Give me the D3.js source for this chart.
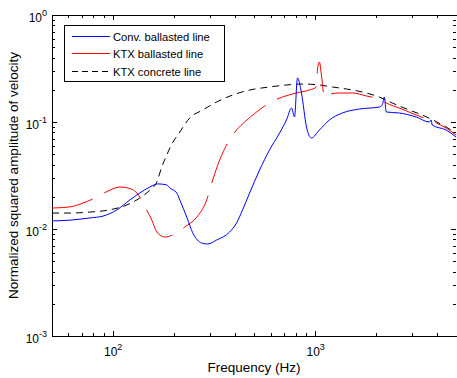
<!DOCTYPE html>
<html>
<head>
<meta charset="utf-8">
<script src="https://cdn.jsdelivr.net/npm/d3@7"></script>
<style>
  body { margin: 0; background: #fff; }
  text { font-family: "Liberation Sans", Arial, sans-serif; }
</style>
</head>
<body>
<div id="content"></div>
<script>
// series data (Hz, normalized squared amplitude)
let freqConv = [50, 61.4, 77.1, 89.3, 104.6, 121.3, 135.8, 152.1, 166.6, 184.5, 190.9, 206.6, 213.8,
  231.5, 247.8, 274.3, 293.8, 325.2, 376.9, 408, 436.7, 473, 530, 593, 665, 719, 762, 788, 815, 853,
  903, 955, 1046, 1172, 1358, 1647, 2065, 2138, 2188, 2238, 2594, 3145, 3644, 3727, 3770, 4416, 4951];
let ampConv = [0.0119, 0.0121, 0.0127, 0.0132, 0.0151, 0.0187, 0.0217, 0.0247, 0.0264, 0.0258, 0.0242, 0.0217, 0.0187,
  0.0129, 0.0092, 0.0074, 0.00724, 0.00789, 0.00937, 0.0114, 0.0151, 0.0217, 0.0356, 0.0548, 0.0789, 0.1044, 0.135, 0.1113, 0.258, 0.1867,
  0.0898, 0.0709, 0.0842, 0.1044, 0.1214, 0.1322, 0.138, 0.1442, 0.1713, 0.124, 0.1214, 0.1113, 0.1, 0.1044, 0.0937, 0.0842, 0.0724];

let freqBal = [50, 61.4, 71.2, 81.5, 94.5, 108.3, 118.5, 131.3, 143.8, 155.6, 164.7, 180.3, 197.5, 226.3,
  259.3, 290.4, 310.9, 336.5, 368.6, 408, 446.9, 512, 593, 687, 806, 934, 1011, 1023, 1046, 1070,
  1107, 1133, 1312, 1521, 1783, 2113, 2238, 2594, 3145, 3644, 4416, 4951];
let ampBal = [0.0157, 0.0161, 0.0175, 0.0195, 0.0226, 0.0247, 0.0242, 0.0217, 0.0161, 0.0121, 0.00937, 0.00842, 0.00879, 0.01044,
  0.0129, 0.0187, 0.0287, 0.0442, 0.0637, 0.0842, 0.1, 0.124, 0.1506, 0.1713, 0.1867, 0.199, 0.2124, 0.306, 0.364, 0.275,
  0.1713, 0.1788, 0.1867, 0.1867, 0.175, 0.1606, 0.1506, 0.135, 0.1162, 0.1044, 0.0879, 0.0755];

let freqConc = [50, 61.4, 77.1, 96.6, 117.2, 135.8, 152.1, 164.7, 174.2, 184.5, 190.9, 213.8, 239.5, 277.5,
  325.2, 390, 473, 593, 719, 863, 1046, 1213, 1422, 1783, 2065, 2393, 2904, 3365, 4416, 4951];
let ampConc = [0.0141, 0.0141, 0.0144, 0.0151, 0.0168, 0.0195, 0.0231, 0.0275, 0.038, 0.0492, 0.0571, 0.0806, 0.109, 0.1295,
  0.1538, 0.1788, 0.199, 0.2124, 0.2218, 0.2265, 0.2218, 0.2124, 0.2034, 0.1867, 0.1713, 0.1506, 0.1295, 0.1162, 0.0898, 0.0789];

let seriesNames = ["Conv. ballasted line", "KTX ballasted line", "KTX concrete line"];
let seriesColors = ["#0000ff", "#ff0000", "#000000"];

let xTickVals = [100, 1000];
let xTickExp = ["2", "3"];
let yTickVals = [1, 0.1, 0.01, 0.001];
let yTickExp = ["0", "-1", "-2", "-3"];

let width = 457, height = 378;
let pLeft = 52, pRight = 457, pTop = 15, pBottom = 336;

let svg = d3.select("#content").append("svg")
  .attr("width", width).attr("height", height);

let x = d3.scaleLog().domain([50, 5000]).range([pLeft, pRight]);
let y = d3.scaleLog().domain([0.001, 1]).range([pBottom, pTop]);

svg.append("clipPath").attr("id", "clip")
  .append("rect").attr("x", pLeft).attr("y", pTop)
  .attr("width", pRight - pLeft).attr("height", pBottom - pTop);

// minor + major ticks, drawn inward on all four sides
let xMinor = [];
[10, 100, 1000].forEach(function (d) {
  for (let k = 2; k <= 9; k++) {
    let v = d * k;
    if (v > 50 && v < 5000) xMinor.push(v);
  }
});
let yMinor = [];
[0.001, 0.01, 0.1].forEach(function (d) {
  for (let k = 2; k <= 9; k++) yMinor.push(d * k);
});

let ticks = svg.append("g").attr("stroke", "#000").attr("stroke-width", 1);
function xTick(v, len) {
  let px = Math.round(x(v)) + 0.5;
  ticks.append("line").attr("x1", px).attr("x2", px).attr("y1", pBottom).attr("y2", pBottom - len);
  ticks.append("line").attr("x1", px).attr("x2", px).attr("y1", pTop).attr("y2", pTop + len);
}
function yTick(v, len) {
  let py = Math.round(y(v)) + 0.5;
  ticks.append("line").attr("x1", pLeft).attr("x2", pLeft + len).attr("y1", py).attr("y2", py);
  ticks.append("line").attr("x1", pRight - 1).attr("x2", pRight - 1 - len).attr("y1", py).attr("y2", py);
}
xMinor.forEach(function (v) { xTick(v, 3); });
xTickVals.forEach(function (v) { xTick(v, 5); });
yMinor.forEach(function (v) { yTick(v, 3); });
yTickVals.forEach(function (v) { yTick(v, 5); });

// frame
svg.append("rect")
  .attr("x", pLeft + 0.5).attr("y", pTop + 0.5)
  .attr("width", pRight - pLeft).attr("height", pBottom - pTop)
  .attr("fill", "none").attr("stroke", "#000").attr("stroke-width", 1);

// tick labels
let xl = svg.append("g").attr("font-size", 12).attr("fill", "#000");
xTickVals.forEach(function (v, i) {
  let t = xl.append("text").attr("x", x(v) - 9).attr("y", 356);
  t.append("tspan").text("10");
  t.append("tspan").attr("dy", -6).attr("font-size", 9).text(xTickExp[i]);
});
let yl = svg.append("g").attr("font-size", 12).attr("fill", "#000");
yTickVals.forEach(function (v, i) {
  let t = yl.append("text").attr("text-anchor", "end").attr("x", 47).attr("y", y(v) + 7);
  t.append("tspan").text("10");
  t.append("tspan").attr("dy", -6).attr("font-size", 9).text(yTickExp[i]);
});

// axis titles
svg.append("text").attr("x", 254).attr("y", 372)
  .attr("text-anchor", "middle").attr("font-size", 13.5).text("Frequency (Hz)");
svg.append("text")
  .attr("transform", "translate(18," + (pTop + pBottom) / 2 + ") rotate(-90)")
  .attr("text-anchor", "middle").attr("font-size", 13.5)
  .text("Normalized squared amplitude of velocity");

// curves
let line = d3.line()
  .x(function (d) { return x(d[0]); })
  .y(function (d) { return y(d[1]); })
  .curve(d3.curveMonotoneX);

let plot = svg.append("g").attr("clip-path", "url(#clip)").attr("fill", "none");

plot.append("path")
  .attr("d", line(d3.zip(freqConc, ampConc)))
  .attr("stroke", seriesColors[2]).attr("stroke-width", 1)
  .attr("stroke-dasharray", "7,5");

plot.append("path")
  .attr("d", line(d3.zip(freqBal, ampBal)))
  .attr("stroke", seriesColors[1]).attr("stroke-width", 1)
  .attr("stroke-dasharray", "42,13");

plot.append("path")
  .attr("d", line(d3.zip(freqConv, ampConv)))
  .attr("stroke", seriesColors[0]).attr("stroke-width", 1);

// legend
let lg = svg.append("g");
lg.append("rect").attr("x", 64.5).attr("y", 25.5).attr("width", 160).attr("height", 56)
  .attr("fill", "#fff").attr("stroke", "#000").attr("stroke-width", 1);
let rowsY = [36.5, 53.5, 71.5];
seriesNames.forEach(function (name, i) {
  lg.append("line").attr("x1", 72).attr("x2", 110).attr("y1", rowsY[i]).attr("y2", rowsY[i])
    .attr("stroke", seriesColors[i]).attr("stroke-width", 1)
    .attr("stroke-dasharray", i == 2 ? "6,4" : null);
  lg.append("text").attr("x", 113).attr("y", rowsY[i] + 4).attr("font-size", 11.2).text(name);
});
</script>
</body>
</html>
